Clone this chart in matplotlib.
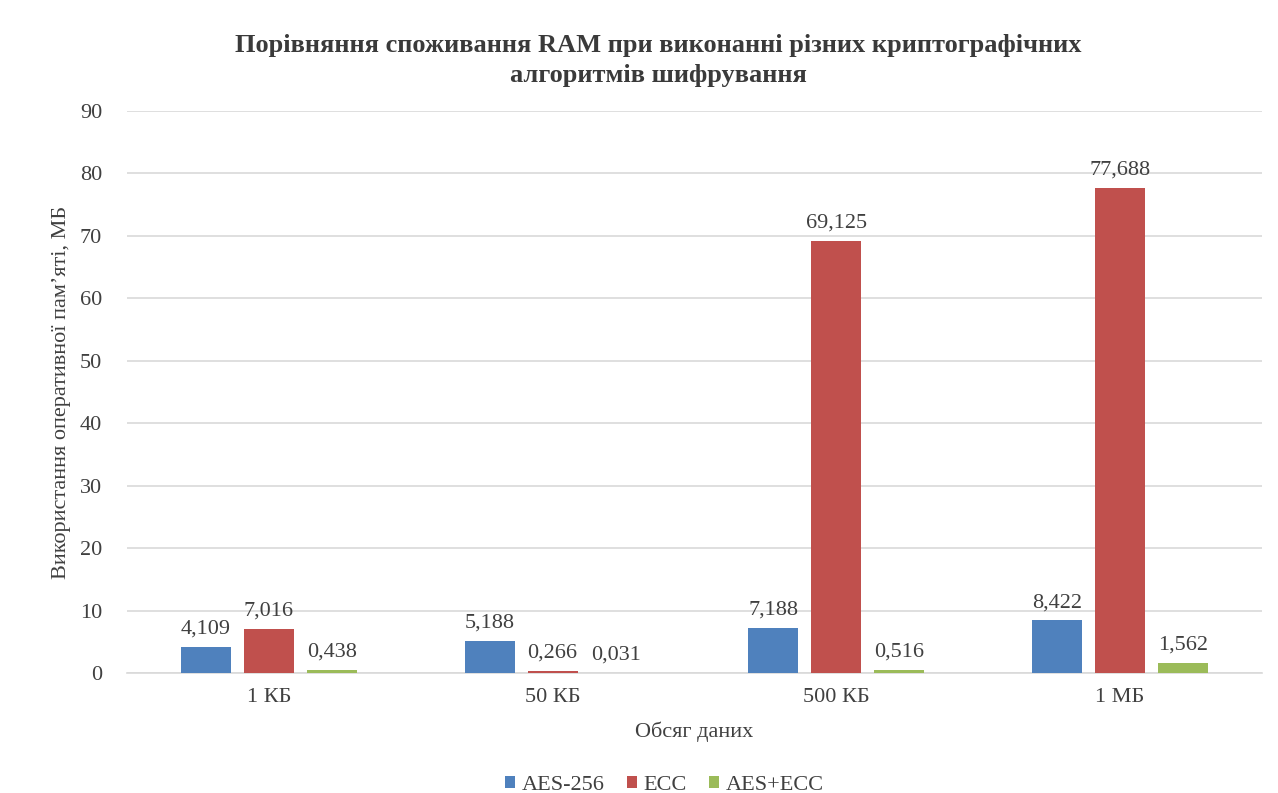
import numpy as np
import matplotlib.pyplot as plt

plt.rcParams["font.family"] = ["Liberation Serif", "DejaVu Serif"]

categories = ["1 КБ", "50 КБ", "500 КБ", "1 МБ"]
series = ["AES-256", "ECC", "AES+ECC"]
aes = [4.109, 5.188, 7.188, 8.422]
ecc = [7.016, 0.266, 69.125, 77.688]
aes_ecc = [0.438, 0.031, 0.516, 1.562]
colors = ["#4F81BD", "#C0504D", "#9BBB59"]

fig = plt.figure(figsize=(12.78, 7.93), dpi=100)
ax = fig.add_axes([0.0994, 0.1513, 0.888, 0.7087])

x = np.arange(len(categories))
width = 0.176
offsets = [-0.222, 0.0, 0.222]

for vals, name, col, off in zip([aes, ecc, aes_ecc], series, colors, offsets):
    bars = ax.bar(x + off, vals, width, color=col, label=name, zorder=3)
    for b, v in zip(bars, vals):
        ax.annotate(f"{v:.3f}".replace(".", ","),
                    (b.get_x() + b.get_width() / 2, v),
                    xytext=(0, 6), textcoords="offset points",
                    ha="center", va="bottom", fontsize=16, color="#404040")

ax.set_xlim(-0.5, 3.5)
ax.set_ylim(0, 90)
ax.set_yticks(np.arange(0, 91, 10))
ax.yaxis.grid(True, color="#d9d9d9", linewidth=1.2, zorder=0)
ax.set_xticks(x)
ax.set_xticklabels(categories)
ax.tick_params(axis="both", length=0, labelsize=16, labelcolor="#404040")
ax.tick_params(axis="x", pad=11)
ax.tick_params(axis="y", pad=18)
for s in ["top", "right", "left"]:
    ax.spines[s].set_visible(False)
ax.spines["bottom"].set_color("#d9d9d9")
ax.spines["bottom"].set_linewidth(1.2)

ax.set_xlabel("Обсяг даних", fontsize=16, color="#404040", labelpad=10)
ax.set_ylabel("Використання оперативної пам’яті, МБ", fontsize=16,
              color="#404040", labelpad=6)
fig.suptitle("Порівняння споживання RAM при виконанні різних криптографічних\n"
             "алгоритмів шифрування", x=0.515, y=0.957, va="top", fontsize=19,
             fontweight="bold", color="#3a3a3a", linespacing=1.4)

fig.legend(loc="lower center", bbox_to_anchor=(0.52, -0.028), ncol=3,
           frameon=False, fontsize=16, handlelength=0.45, handleheight=0.45,
           handletextpad=0.3, columnspacing=1.0, labelcolor="#404040")

fig.savefig("out.png", dpi=100)
